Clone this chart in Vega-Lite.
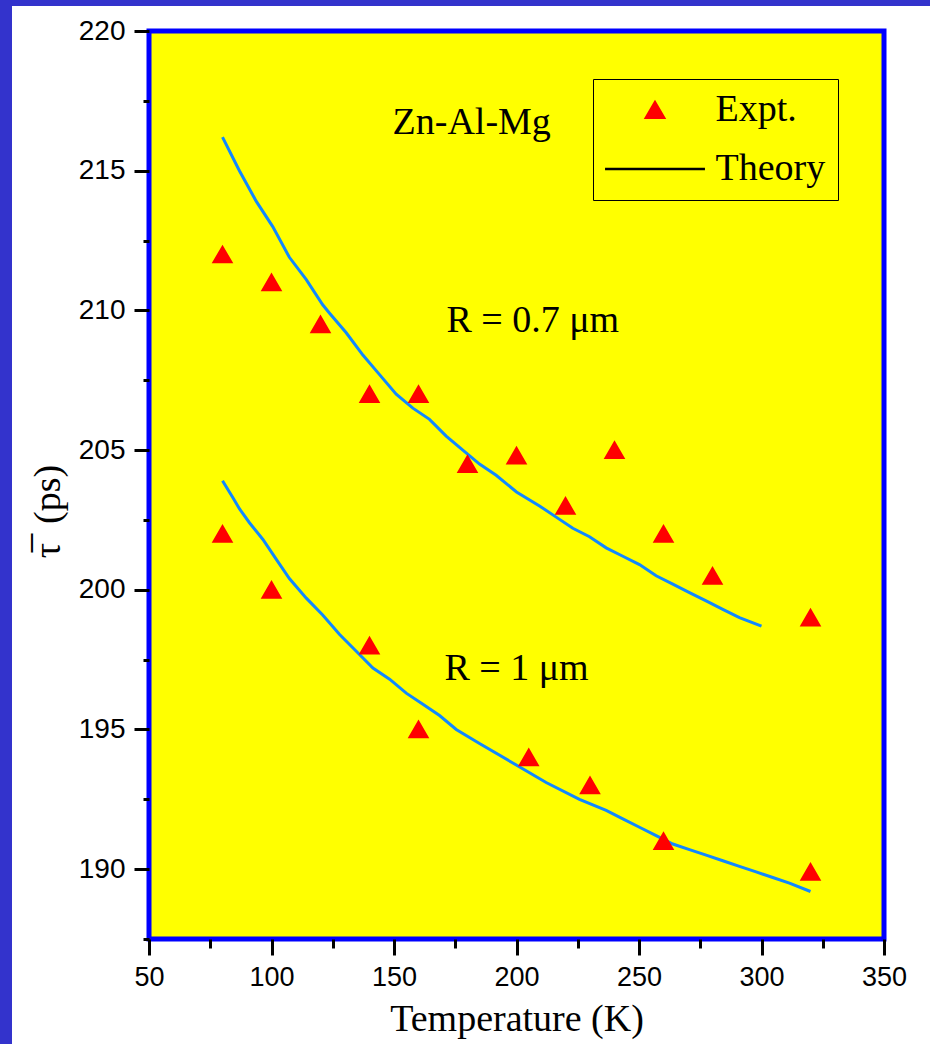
{
  "$schema": "https://vega.github.io/schema/vega-lite/v6.json",
  "padding": 0,
  "background": "white",
  "spacing": 0,
  "config": {"view": {"stroke": null}},
  "datasets": {
    "theory": [
      {"s": "a", "T": 80, "tau": 216.2}, {"s": "a", "T": 86.9, "tau": 215.0}, {"s": "a", "T": 93.8, "tau": 213.9},
      {"s": "a", "T": 100.5, "tau": 213.0}, {"s": "a", "T": 107.3, "tau": 211.9}, {"s": "a", "T": 114.2, "tau": 211.1},
      {"s": "a", "T": 120.9, "tau": 210.2}, {"s": "a", "T": 123.7, "tau": 209.9}, {"s": "a", "T": 130.5, "tau": 209.2},
      {"s": "a", "T": 137.3, "tau": 208.4}, {"s": "a", "T": 144.1, "tau": 207.7}, {"s": "a", "T": 150.9, "tau": 207.0},
      {"s": "a", "T": 157.7, "tau": 206.5}, {"s": "a", "T": 164.5, "tau": 206.1}, {"s": "a", "T": 171.3, "tau": 205.5},
      {"s": "a", "T": 178.1, "tau": 205.0}, {"s": "a", "T": 184.9, "tau": 204.5}, {"s": "a", "T": 191.7, "tau": 204.1},
      {"s": "a", "T": 200.0, "tau": 203.5}, {"s": "a", "T": 209.4, "tau": 203.0}, {"s": "a", "T": 216.2, "tau": 202.6},
      {"s": "a", "T": 223.0, "tau": 202.2}, {"s": "a", "T": 229.8, "tau": 201.9}, {"s": "a", "T": 236.6, "tau": 201.5},
      {"s": "a", "T": 243.4, "tau": 201.2}, {"s": "a", "T": 250.2, "tau": 200.9}, {"s": "a", "T": 257.0, "tau": 200.5},
      {"s": "a", "T": 263.8, "tau": 200.2}, {"s": "a", "T": 270.6, "tau": 199.9}, {"s": "a", "T": 277.4, "tau": 199.6},
      {"s": "a", "T": 284.2, "tau": 199.3}, {"s": "a", "T": 291.0, "tau": 199.0}, {"s": "a", "T": 300.0, "tau": 198.7},
      {"s": "b", "T": 80, "tau": 203.9}, {"s": "b", "T": 84.2, "tau": 203.3}, {"s": "b", "T": 86.9, "tau": 202.9},
      {"s": "b", "T": 91.0, "tau": 202.4}, {"s": "b", "T": 96.5, "tau": 201.8}, {"s": "b", "T": 101.9, "tau": 201.1},
      {"s": "b", "T": 107.3, "tau": 200.4}, {"s": "b", "T": 114.2, "tau": 199.7}, {"s": "b", "T": 120.9, "tau": 199.1},
      {"s": "b", "T": 127.8, "tau": 198.4}, {"s": "b", "T": 134.6, "tau": 197.8}, {"s": "b", "T": 141.4, "tau": 197.2},
      {"s": "b", "T": 148.2, "tau": 196.8}, {"s": "b", "T": 155.0, "tau": 196.3}, {"s": "b", "T": 161.8, "tau": 195.9},
      {"s": "b", "T": 168.6, "tau": 195.5}, {"s": "b", "T": 175.4, "tau": 195.0}, {"s": "b", "T": 184.9, "tau": 194.5},
      {"s": "b", "T": 198.5, "tau": 193.8}, {"s": "b", "T": 212.1, "tau": 193.1}, {"s": "b", "T": 225.7, "tau": 192.5},
      {"s": "b", "T": 236.6, "tau": 192.1}, {"s": "b", "T": 243.4, "tau": 191.8}, {"s": "b", "T": 250.2, "tau": 191.5},
      {"s": "b", "T": 257.0, "tau": 191.2}, {"s": "b", "T": 263.8, "tau": 190.9}, {"s": "b", "T": 270.6, "tau": 190.7},
      {"s": "b", "T": 277.4, "tau": 190.5}, {"s": "b", "T": 284.2, "tau": 190.3}, {"s": "b", "T": 291.0, "tau": 190.1},
      {"s": "b", "T": 297.8, "tau": 189.9}, {"s": "b", "T": 304.6, "tau": 189.7}, {"s": "b", "T": 311.4, "tau": 189.5},
      {"s": "b", "T": 320.0, "tau": 189.2}
    ],
    "expt": [
      {"kind": "Expt.", "T": 80, "tau": 212}, {"kind": "Expt.", "T": 100, "tau": 211}, {"kind": "Expt.", "T": 120, "tau": 209.5},
      {"kind": "Expt.", "T": 140, "tau": 207}, {"kind": "Expt.", "T": 160, "tau": 207}, {"kind": "Expt.", "T": 180, "tau": 204.5},
      {"kind": "Expt.", "T": 200, "tau": 204.8}, {"kind": "Expt.", "T": 220, "tau": 203}, {"kind": "Expt.", "T": 240, "tau": 205},
      {"kind": "Expt.", "T": 260, "tau": 202}, {"kind": "Expt.", "T": 280, "tau": 200.5}, {"kind": "Expt.", "T": 320, "tau": 199},
      {"kind": "Expt.", "T": 80, "tau": 202}, {"kind": "Expt.", "T": 100, "tau": 200}, {"kind": "Expt.", "T": 140, "tau": 198},
      {"kind": "Expt.", "T": 160, "tau": 195}, {"kind": "Expt.", "T": 205, "tau": 194}, {"kind": "Expt.", "T": 230, "tau": 193},
      {"kind": "Expt.", "T": 260, "tau": 191}, {"kind": "Expt.", "T": 320, "tau": 189.9}
    ],
    "notes": [
      {"T": 149.4, "tau": 216.33, "text": "Zn-Al-Mg"},
      {"T": 171.4, "tau": 209.21, "text": "R = 0.7 μm"},
      {"T": 170.6, "tau": 196.76, "text": "R = 1 μm"}
    ]
  },
  "vconcat": [
    {"width": 930, "height": 6, "data": {"values": []}, "mark": "rect", "view": {"fill": "#3333cc", "stroke": null}},
    {
      "spacing": 14,
      "hconcat": [
        {"width": 12, "height": 1038, "data": {"values": []}, "mark": "rect", "view": {"fill": "#3333cc", "stroke": null}},
        {
          "spacing": 0,
          "vconcat": [
            {"width": 10, "height": 2, "data": {"values": []}, "mark": "rect", "view": {"fill": null, "stroke": null}},
            {
              "width": 735,
              "height": 908,
              "view": {"fill": "#ffff00", "stroke": "#0000ff", "strokeWidth": 5},
              "resolve": {"axis": {"x": "independent"}},
              "layer": [
                {
                  "data": {"name": "theory"},
                  "mark": {"type": "line", "color": "#1188ff", "strokeWidth": 3},
                  "encoding": {
                    "x": {
                      "field": "T", "type": "quantitative",
                      "scale": {"domain": [50, 350], "nice": false, "zero": false},
                      "axis": {
                        "orient": "bottom",
                        "values": [50, 75, 100, 125, 150, 175, 200, 225, 250, 275, 300, 325, 350],
                        "labelExpr": "datum.value % 50 === 0 ? datum.label : ''",
                        "tickSize": {"condition": {"test": "datum.value % 50 !== 0", "value": 9}, "value": 16},
                        "tickWidth": 3, "tickColor": "black",
                        "domain": false, "grid": false,
                        "labelFont": "Liberation Sans", "labelFontSize": 27, "labelColor": "black", "labelPadding": 9,
                        "labelFlush": false, "labelOverlap": false,
                        "title": "Temperature (K)", "titleFont": "Liberation Serif", "titleFontSize": 38,
                        "titleFontWeight": "normal", "titleColor": "black", "titlePadding": 10
                      }
                    },
                    "y": {
                      "field": "tau", "type": "quantitative",
                      "scale": {"domain": [187.5, 220], "nice": false, "zero": false},
                      "axis": {
                        "values": [187.5, 190, 192.5, 195, 197.5, 200, 202.5, 205, 207.5, 210, 212.5, 215, 217.5, 220],
                        "labelExpr": "datum.value % 5 === 0 ? datum.label : ''",
                        "tickSize": {"condition": {"test": "datum.value % 5 !== 0", "value": 6}, "value": 15},
                        "tickWidth": 3, "tickColor": "black",
                        "domain": false, "grid": false,
                        "labelFont": "Liberation Sans", "labelFontSize": 28, "labelColor": "black", "labelPadding": 9,
                        "labelFlush": false, "labelOverlap": false,
                        "title": "τ̅\u00a0\u00a0(ps)", "titleFont": "Liberation Serif", "titleFontSize": 38,
                        "titleFontWeight": "normal", "titleColor": "black",
                        "titleX": -90, "titleY": 480, "titleBaseline": "alphabetic", "titleAngle": 270
                      }
                    },
                    "detail": {"field": "s"}
                  }
                },
                {
                  "data": {"name": "expt"},
                  "mark": {"type": "point", "filled": false, "fill": "#ff0000", "fillOpacity": 1, "strokeWidth": 2, "size": 330, "opacity": 1},
                  "encoding": {
                    "x": {"field": "T", "type": "quantitative", "axis": null},
                    "y": {"field": "tau", "type": "quantitative"},
                    "color": {
                      "field": "kind", "type": "nominal",
                      "scale": {"domain": ["Expt.", "Theory"], "range": ["#ff0000", "#000000"]},
                      "legend": {
                        "orient": "none", "legendX": 593, "legendY": 79, "title": null,
                        "padding": 12, "strokeColor": "black",
                        "labelFont": "Liberation Serif", "labelFontSize": 38, "labelColor": "black", "labelLimit": 400,
                        "labelOffset": 41.5, "symbolOffset": 31, "rowPadding": 21, "symbolSize": 330,
                        "symbolStrokeWidth": 2.5, "symbolFillColor": "#ff0000"
                      }
                    },
                    "shape": {
                      "field": "kind", "type": "nominal",
                      "scale": {"domain": ["Expt.", "Theory"], "range": ["triangle-up", "M-5.5,0H5.5"]},
                      "legend": {
                        "orient": "none", "legendX": 593, "legendY": 79, "title": null,
                        "padding": 12, "strokeColor": "black",
                        "labelFont": "Liberation Serif", "labelFontSize": 38, "labelColor": "black", "labelLimit": 400,
                        "labelOffset": 41.5, "symbolOffset": 31, "rowPadding": 21, "symbolSize": 330,
                        "symbolStrokeWidth": 2.5, "symbolFillColor": "#ff0000"
                      }
                    }
                  }
                },
                {
                  "data": {"name": "notes"},
                  "mark": {"type": "text", "font": "Liberation Serif", "fontSize": 38, "align": "left", "baseline": "alphabetic", "color": "black"},
                  "encoding": {
                    "x": {
                      "field": "T", "type": "quantitative",
                      "axis": {"orient": "top", "values": [50], "labels": false, "domain": false, "grid": false, "title": null, "tickSize": 20, "tickColor": "transparent"}
                    },
                    "y": {"field": "tau", "type": "quantitative"},
                    "text": {"field": "text"}
                  }
                }
              ]
            }
          ]
        }
      ]
    }
  ]
}
